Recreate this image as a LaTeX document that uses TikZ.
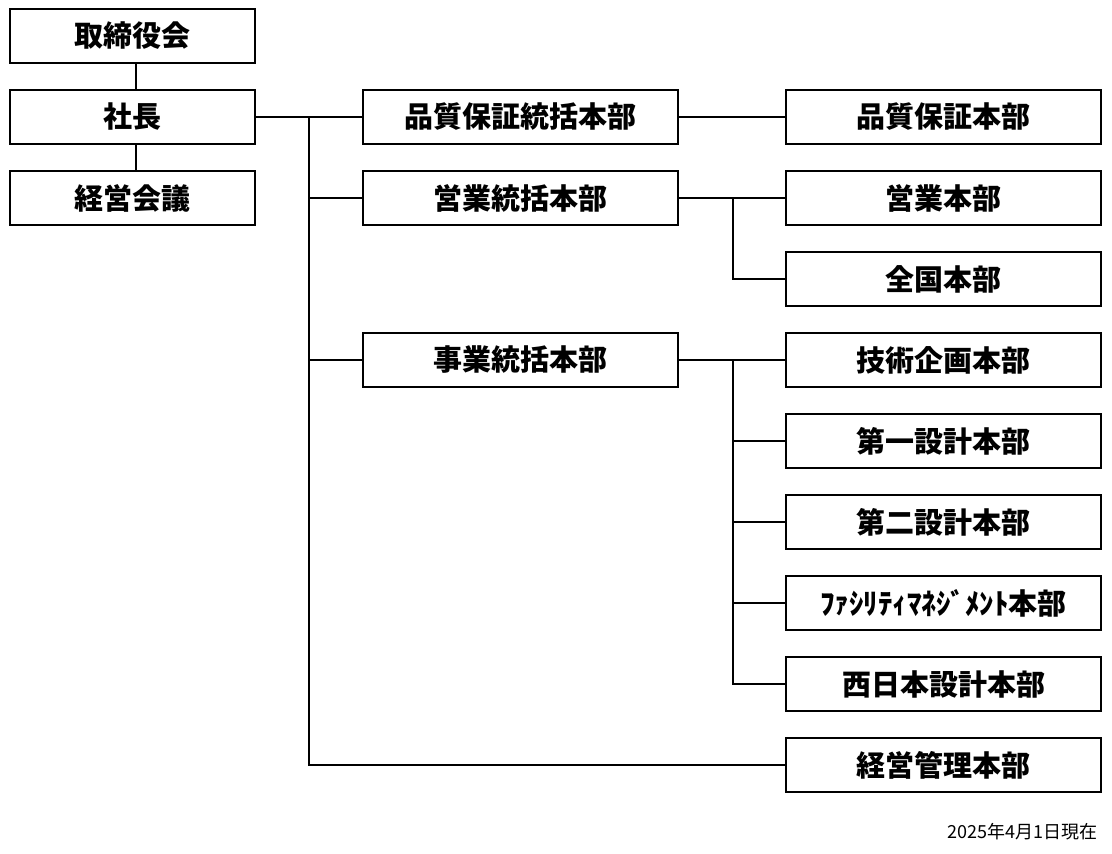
\documentclass[tikz,border=0pt]{standalone}
\usepackage{fontspec}
\setmainfont{Noto Sans CJK JP}
\newlength{\du}
\setlength{\du}{1pt}
\tikzset{
  orgbox/.style={draw, line width=1.3\du, minimum height=54\du, inner sep=0pt,
    font=\fontsize{29}{29}\selectfont\bfseries},
  smallbox/.style={orgbox, minimum width=245\du},
  widebox/.style={orgbox, minimum width=315\du},
  orgline/.style={line width=1.3\du}
}
\begin{document}
\begin{tikzpicture}
\pgftransformxscale{1.000000}
\pgftransformyscale{-1.000000}
\definecolor{dialinecolor}{rgb}{0.000000, 0.000000, 0.000000}
\pgfsetstrokecolor{dialinecolor}
\useasboundingbox (0\du,0\du) rectangle (1112\du,854\du);
% left column
\node[smallbox] (board) at (132.5\du,36\du){取締役会};
\node[smallbox] (pres) at (132.5\du,117\du){社長};
\node[smallbox] (council) at (132.5\du,198\du){経営会議};
% middle column
\node[widebox] (qagen) at (520.5\du,117\du){品質保証統括本部};
\node[widebox] (salesgen) at (520.5\du,198\du){営業統括本部};
\node[widebox] (bizgen) at (520.5\du,360\du){事業統括本部};
% right column
\node[widebox] (qa) at (943.5\du,117\du){品質保証本部};
\node[widebox] (sales) at (943.5\du,198\du){営業本部};
\node[widebox] (national) at (943.5\du,279\du){全国本部};
\node[widebox] (tech) at (943.5\du,360\du){技術企画本部};
\node[widebox] (design1) at (943.5\du,441\du){第一設計本部};
\node[widebox] (design2) at (943.5\du,522\du){第二設計本部};
\node[widebox] (facility) at (943.5\du,603\du){ﾌｧｼﾘﾃｨﾏﾈｼﾞﾒﾝﾄ本部};
\node[widebox] (westjp) at (943.5\du,684\du){西日本設計本部};
\node[widebox] (mgmt) at (943.5\du,765\du){経営管理本部};
% connectors
\coordinate (trunk) at (309\du,117\du);
\coordinate (salesfork) at (733\du,198\du);
\coordinate (bizfork) at (733\du,360\du);
\draw[orgline] ([xshift=3.5\du]board.south) -- ([xshift=3.5\du]pres.north);
\draw[orgline] ([xshift=3.5\du]pres.south) -- ([xshift=3.5\du]council.north);
\draw[orgline] (pres.east) -- (qagen.west);
\draw[orgline] (trunk) |- (salesgen.west);
\draw[orgline] (trunk) |- (bizgen.west);
\draw[orgline] (trunk) |- (mgmt.west);
\draw[orgline] (qagen.east) -- (qa.west);
\draw[orgline] (salesgen.east) -- (sales.west);
\draw[orgline] (salesfork) |- (national.west);
\draw[orgline] (bizgen.east) -- (tech.west);
\foreach \n in {design1,design2,facility,westjp}
  \draw[orgline] (bizfork) |- (\n.west);
% date
\node[anchor=east, inner sep=0pt, font=\fontsize{18}{18}\selectfont] (date) at (1098\du,832\du){2025年4月1日現在};
\end{tikzpicture}
\end{document}
